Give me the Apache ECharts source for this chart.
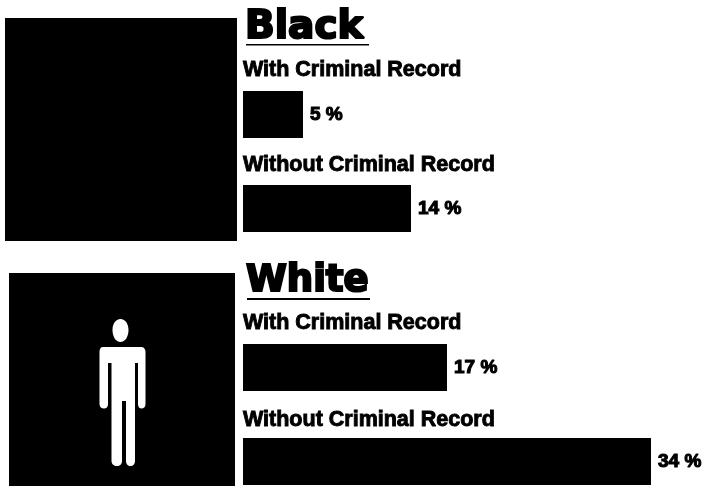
<!DOCTYPE html>
<html>
<head>
<meta charset="utf-8">
<style>html,body{margin:0;padding:0;background:#fff}#chart{width:708px;height:486px}</style>
<script src="https://cdn.jsdelivr.net/npm/echarts@6/dist/echarts.min.js"></script>
</head>
<body>
<div id="chart"></div>
<script>
// Callback rates by race and criminal record, in percent.
const groups = ['Black', 'White'];
const recordLabels = ['With Criminal Record', 'Without Criminal Record'];
const blackValues = [5, 14];
const whiteValues = [17, 34];

const values = blackValues.concat(whiteValues);
const rowLabels = [recordLabels[0], recordLabels[1], recordLabels[0], recordLabels[1]];

// One row per bar; every row shares the same x scale.
const barTops = [91, 185, 344, 438];
const barHeight = 47;
const labelBaselines = [78, 173, 331, 428];
const scaleMax = 38;
const plotLeft = 243;
const plotWidth = 456;

const ink = '#000';
const grid = [], xAxis = [], yAxis = [], series = [], title = [];

values.forEach((v, i) => {
  grid.push({ left: plotLeft, top: barTops[i], width: plotWidth, height: barHeight });
  xAxis.push({ gridIndex: i, type: 'value', min: 0, max: scaleMax, show: false });
  yAxis.push({ gridIndex: i, type: 'category', data: [rowLabels[i]], show: false });
  series.push({
    type: 'bar',
    xAxisIndex: i,
    yAxisIndex: i,
    data: [v],
    barWidth: '100%',
    silent: true,
    itemStyle: { color: ink },
    label: {
      show: true,
      position: 'right',
      distance: 7,
      formatter: '{c} %',
      color: ink,
      fontFamily: '"Liberation Sans", Arial, sans-serif',
      fontWeight: 'bold',
      fontSize: 19,
      textBorderColor: ink,
      textBorderWidth: 1.1
    }
  });
  title.push({
    text: rowLabels[i],
    left: 243,
    top: labelBaselines[i] - 19,
    padding: 0,
    textStyle: {
      color: ink,
      fontFamily: '"Liberation Sans", Arial, sans-serif',
      fontWeight: 'bold',
      fontSize: 21.5,
      textBorderColor: ink,
      textBorderWidth: 0.9
    }
  });
});

// Group headings.
[[245, 8, 39], [246, 263, 37]].forEach((h, i) => {
  title.push({
    text: groups[i],
    left: h[0],
    top: h[1],
    padding: 0,
    textStyle: {
      color: ink,
      fontFamily: '"DejaVu Sans", sans-serif',
      fontWeight: 'bold',
      fontSize: h[2],
      textBorderColor: ink,
      textBorderWidth: 2.2
    }
  });
});

// Standing figure on the lower portrait panel.
const figurePath =
  'M120.5 319 C125.5 319 128.5 324 128.5 330 C128.5 337 125 342 120.5 342 ' +
  'C116 342 112.5 337 112.5 330 C112.5 324 115.5 319 120.5 319 Z ' +
  'M103 347 L141 347 C144 347 145.5 349 145.5 352 L145.5 404 ' +
  'C145.5 407 143.5 408.5 141.5 408.5 C139.5 408.5 138 407 138 404 L138 363 L135 363 ' +
  'L135 461 C135 464 133 466 130.5 466 C128 466 126 464 126 461 L126 401 L122 401 ' +
  'L122 461 C122 464 120 466 117 466 C114 466 111.5 464 111.5 461 L111.5 363 L108 363 ' +
  'L108 404 C108 407 106.5 408.5 104 408.5 C101.5 408.5 99.5 407 99.5 404 L99.5 352 ' +
  'C99.5 349 100.5 347 103 347 Z';
echarts.graphic.registerShape('standingFigure', echarts.graphic.extendPath(figurePath, {}));

const graphic = [
  { type: 'rect', shape: { x: 5, y: 18, width: 232, height: 223 }, style: { fill: ink } },
  { type: 'rect', shape: { x: 9, y: 273, width: 226, height: 213 }, style: { fill: ink } },
  { type: 'standingFigure', style: { fill: '#fff' } },
  { type: 'rect', shape: { x: 246, y: 44, width: 123, height: 1.5 }, style: { fill: ink } },
  { type: 'rect', shape: { x: 247, y: 298, width: 123, height: 2 }, style: { fill: ink } }
];

const chart = echarts.init(document.getElementById('chart'), null, { renderer: 'canvas' });
chart.setOption({
  animation: false,
  backgroundColor: '#fff',
  title, grid, xAxis, yAxis, series, graphic
});
</script>
</body>
</html>
